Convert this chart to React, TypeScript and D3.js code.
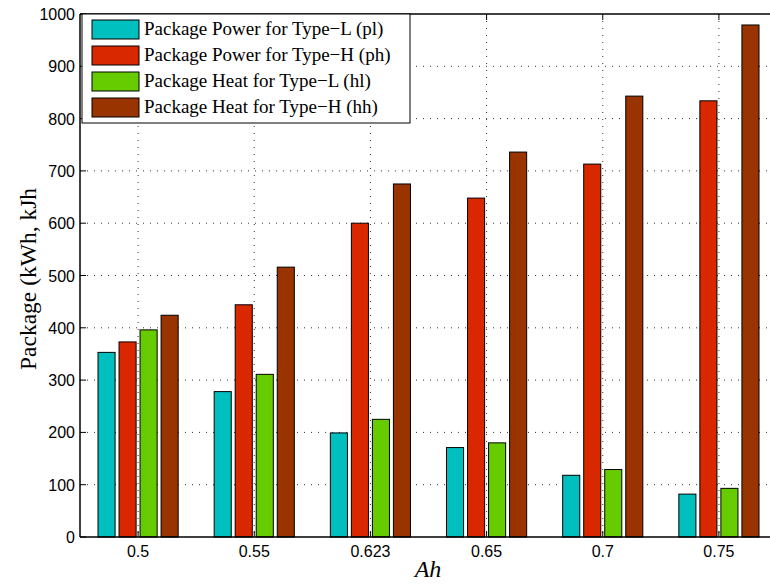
import React from "react";
import * as d3 from "d3";

const categories = ["0.5", "0.55", "0.623", "0.65", "0.7", "0.75"];
const seriesNames = [
  "Package Power for Type\u2212L (pl)",
  "Package Power for Type\u2212H (ph)",
  "Package Heat for Type\u2212L (hl)",
  "Package Heat for Type\u2212H (hh)",
];
const pl = [353, 278, 199, 171, 118, 82];
const ph = [373, 444, 600, 648, 713, 834];
const hl = [396, 311, 225, 180, 129, 93];
const hh = [424, 516, 675, 736, 843, 979];
const seriesValues = [pl, ph, hl, hh];
const colors = ["#00bfbf", "#d92800", "#66cc00", "#993300"];
const yTicks = [0, 100, 200, 300, 400, 500, 600, 700, 800, 900, 1000];

const W = 770;
const H = 584;
const left = 80;
const right = 777;
const top = 14;
const bottom = 537;

export default function App() {
  const x = d3.scaleLinear().domain([0.5, categories.length + 0.5]).range([left, right]);
  const y = d3.scaleLinear().domain([0, 1000]).range([bottom, top]);
  const unit = x(2) - x(1);
  const barW = unit * 0.147;
  const offsets = [-1.5, -0.5, 0.5, 1.5].map((k) => k * unit * 0.181);

  return (
    <svg width={W} height={H} style={{ position: "absolute", left: 0, top: 0, background: "#fff" }}>
      <rect x={0} y={0} width={W} height={H} fill="#fff" />
      {/* grid */}
      {yTicks.slice(1, -1).map((t) => (
        <line key={"gy" + t} x1={left} x2={right} y1={y(t)} y2={y(t)} stroke="#333" strokeWidth={1} strokeDasharray="1 6" />
      ))}
      {categories.map((c, i) => (
        <line key={"gx" + c} x1={x(i + 1)} x2={x(i + 1)} y1={top} y2={bottom} stroke="#333" strokeWidth={1} strokeDasharray="1 6" />
      ))}
      {/* bars */}
      {seriesValues.map((vals, s) =>
        vals.map((v, i) => (
          <rect
            key={"b" + s + "-" + i}
            x={x(i + 1) + offsets[s] - barW / 2}
            y={y(v)}
            width={barW}
            height={y(0) - y(v)}
            fill={colors[s]}
            stroke="#000"
            strokeWidth={1}
          />
        ))
      )}
      {/* axes */}
      <line x1={left} x2={right} y1={bottom} y2={bottom} stroke="#000" strokeWidth={1.5} />
      <line x1={left} x2={right} y1={top} y2={top} stroke="#000" strokeWidth={1.5} />
      <line x1={left} x2={left} y1={top} y2={bottom} stroke="#000" strokeWidth={1.5} />
      {yTicks.map((t) => (
        <g key={"yt" + t}>
          <line x1={left} x2={left + 6} y1={y(t)} y2={y(t)} stroke="#000" />
          <line x1={right - 6} x2={right} y1={y(t)} y2={y(t)} stroke="#000" />
          <text x={left - 5} y={y(t) + 6} textAnchor="end" fontFamily="Liberation Sans, Arial, sans-serif" fontSize={16} fill="#000">
            {t}
          </text>
        </g>
      ))}
      {categories.map((c, i) => (
        <g key={"xt" + c}>
          <line x1={x(i + 1)} x2={x(i + 1)} y1={bottom} y2={bottom - 6} stroke="#000" />
          <line x1={x(i + 1)} x2={x(i + 1)} y1={top} y2={top + 6} stroke="#000" />
          <text x={x(i + 1)} y={557} textAnchor="middle" fontFamily="Liberation Sans, Arial, sans-serif" fontSize={16} fill="#000">
            {c}
          </text>
        </g>
      ))}
      {/* axis titles */}
      <text x={428} y={577} textAnchor="middle" fontFamily="Liberation Serif, Times New Roman, serif" fontStyle="italic" fontSize={24} fill="#000">
        Ah
      </text>
      <text
        transform={`translate(36, 279) rotate(-90)`}
        textAnchor="middle"
        fontFamily="Liberation Serif, Times New Roman, serif"
        fontSize={23.5}
        fill="#000"
      >
        Package (kWh, kJh
      </text>
      {/* legend */}
      <rect x={82} y={14} width={328} height={109} fill="#fff" stroke="#000" strokeWidth={1} />
      {seriesNames.map((n, s) => (
        <g key={"lg" + s}>
          <rect x={92} y={20 + s * 26} width={47} height={19} fill={colors[s]} stroke="#000" strokeWidth={1} />
          <text x={144} y={35 + s * 26} fontFamily="Liberation Serif, Times New Roman, serif" fontSize={19} fill="#000">
            {n}
          </text>
        </g>
      ))}
    </svg>
  );
}
